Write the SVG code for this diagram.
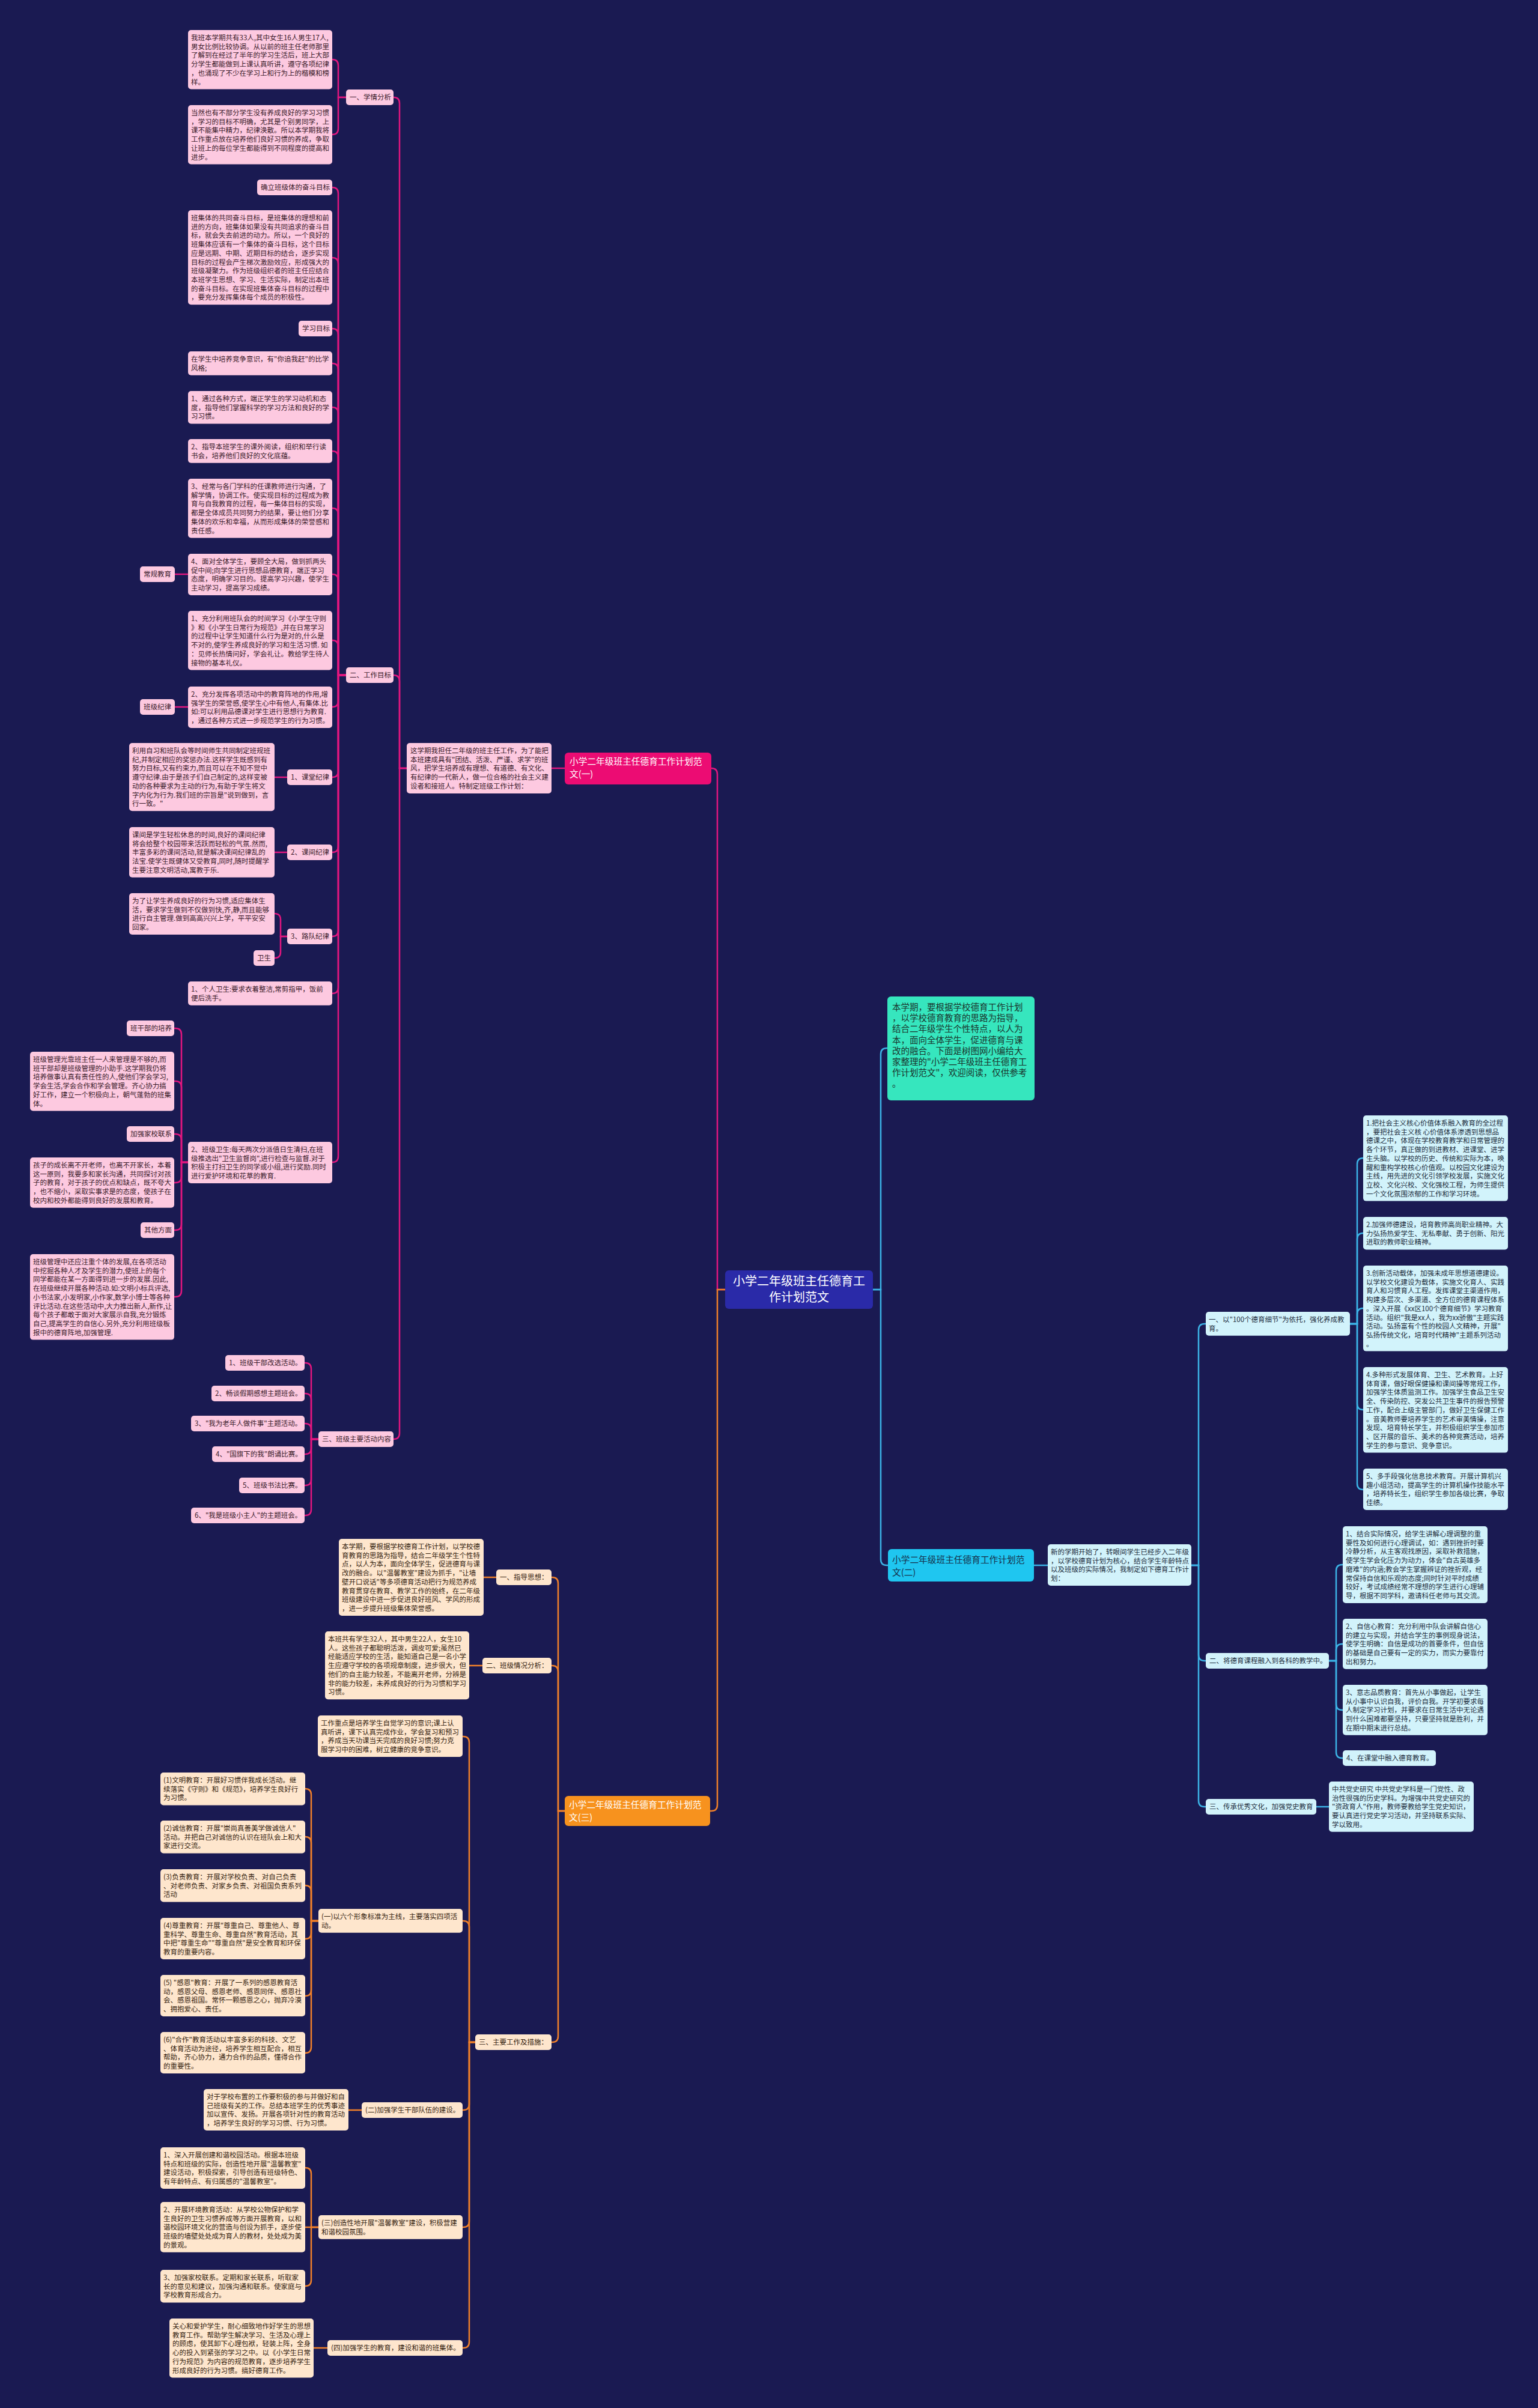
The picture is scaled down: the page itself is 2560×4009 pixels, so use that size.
<svg xmlns="http://www.w3.org/2000/svg" width="2560" height="4009" viewBox="0 0 2560 4009">
<style>
text{font-family:'Noto Sans CJK SC','Noto Sans',sans-serif;font-size:11.5px}
.pk{fill:#fdc9e0}.pt{fill:#3a1a2a}
.cy{fill:#d2f3fb}.ct{fill:#1c2c3c}
.or{fill:#fee6cd}.ot{fill:#35230f}
.ln{fill:none;stroke-width:2.5}
.lp{stroke:#e3167f}.lc{stroke:#3cb3e6}.lo{stroke:#f0802a}
.big{font-size:14.7px}
</style>
<rect width="2560" height="4009" fill="#1a1a52"/>
<g id="connectors">
<g class="ln lp">
<path d="M1207,2147 H1194 V1289 Q1194,1279 1184,1279"/>
<path d="M940,1279 H918"/>
<path d="M677,1279 H665 V172 Q665,162 655,162"/>
<path d="M677,1279 H665 V1134 Q665,1124 655,1124"/>
<path d="M677,1279 H665 V2386 Q665,2396 655,2396"/>
<path d="M576,162 H563 V109 Q563,99 553,99"/>
<path d="M576,162 H563 V214 Q563,224 553,224"/>
<path d="M576,1124 H563 V322 Q563,312 553,312"/>
<path d="M576,1124 H563 V439 Q563,429 553,429"/>
<path d="M576,1124 H563 V557 Q563,547 553,547"/>
<path d="M576,1124 H563 V615 Q563,605 553,605"/>
<path d="M576,1124 H563 V688 Q563,678 553,678"/>
<path d="M576,1124 H563 V761 Q563,751 553,751"/>
<path d="M576,1124 H563 V856 Q563,846 553,846"/>
<path d="M576,1124 H563 V966 Q563,956 553,956"/>
<path d="M576,1124 H563 V1076 Q563,1066 553,1066"/>
<path d="M576,1124 H563 V1167 Q563,1177 553,1177"/>
<path d="M576,1124 H563 V1284 Q563,1294 553,1294"/>
<path d="M576,1124 H563 V1409 Q563,1419 553,1419"/>
<path d="M576,1124 H563 V1549 Q563,1559 553,1559"/>
<path d="M576,1124 H563 V1644 Q563,1654 553,1654"/>
<path d="M576,1124 H563 V1925 Q563,1935 553,1935"/>
<path d="M313,956 H291"/>
<path d="M313,1177 H291"/>
<path d="M478,1294 H457"/>
<path d="M478,1419 H457"/>
<path d="M478,1559 H467 V1531 Q467,1521 457,1521"/>
<path d="M478,1559 H467 V1585 Q467,1595 457,1595"/>
<path d="M313,1935 H302 V1722 Q302,1712 292,1712 H290"/>
<path d="M313,1935 H302 V1810 Q302,1800 292,1800 H290"/>
<path d="M313,1935 H302 V1898 Q302,1888 292,1888 H290"/>
<path d="M313,1935 H302 V1959 Q302,1969 292,1969 H290"/>
<path d="M313,1935 H302 V2038 Q302,2048 292,2048 H290"/>
<path d="M313,1935 H302 V2149 Q302,2159 292,2159 H290"/>
<path d="M530,2396 H518 V2279 Q518,2269 508,2269 H507"/>
<path d="M530,2396 H518 V2330 Q518,2320 508,2320 H507"/>
<path d="M530,2396 H518 V2380 Q518,2370 508,2370 H507"/>
<path d="M530,2396 H518 V2411 Q518,2421 508,2421 H507"/>
<path d="M530,2396 H518 V2463 Q518,2473 508,2473 H507"/>
<path d="M530,2396 H518 V2513 Q518,2523 508,2523 H507"/>
</g>
<g class="ln lc">
<path d="M1453,2147 H1466 V1755 Q1466,1745 1476,1745 H1477"/>
<path d="M1453,2147 H1466 V2596 Q1466,2606 1476,2606 H1478"/>
<path d="M1721,2606 H1744"/>
<path d="M1983,2606 H1995 V2214 Q1995,2204 2005,2204 H2007"/>
<path d="M1983,2606 H1995 V2755 Q1995,2765 2005,2765 H2007"/>
<path d="M1983,2606 H1995 V2998 Q1995,3008 2005,3008 H2007"/>
<path d="M2247,2204 H2259 V1938 Q2259,1928 2269,1928"/>
<path d="M2247,2204 H2259 V2063 Q2259,2053 2269,2053"/>
<path d="M2247,2204 H2259 V2188 Q2259,2178 2269,2178"/>
<path d="M2247,2204 H2259 V2337 Q2259,2347 2269,2347"/>
<path d="M2247,2204 H2259 V2470 Q2259,2480 2269,2480"/>
<path d="M2212,2765 H2224 V2615 Q2224,2605 2234,2605 H2235"/>
<path d="M2212,2765 H2224 V2747 Q2224,2737 2234,2737 H2235"/>
<path d="M2212,2765 H2224 V2837 Q2224,2847 2234,2847 H2235"/>
<path d="M2212,2765 H2224 V2917 Q2224,2927 2234,2927 H2235"/>
<path d="M2191,3008 H2212"/>
</g>
<g class="ln lo">
<path d="M1207,2147 H1194 V3005 Q1194,3015 1184,3015 H1182"/>
<path d="M940,3015 H929 V2636 Q929,2626 919,2626 H918"/>
<path d="M940,3015 H929 V2783 Q929,2773 919,2773 H918"/>
<path d="M940,3015 H929 V3390 Q929,3400 919,3400 H918"/>
<path d="M826,2626 H805"/>
<path d="M803,2773 H781"/>
<path d="M791,3400 H781 V2901 Q781,2891 771,2891 H770"/>
<path d="M791,3400 H781 V3208 Q781,3198 771,3198 H770"/>
<path d="M791,3400 H781 V3503 Q781,3513 771,3513 H770"/>
<path d="M791,3400 H781 V3698 Q781,3708 771,3708 H770"/>
<path d="M791,3400 H781 V3899 Q781,3909 771,3909 H770"/>
<path d="M530,3198 H518 V2988 Q518,2978 508,2978"/>
<path d="M530,3198 H518 V3068 Q518,3058 508,3058"/>
<path d="M530,3198 H518 V3149 Q518,3139 508,3139"/>
<path d="M530,3198 H518 V3218 Q518,3228 508,3228"/>
<path d="M530,3198 H518 V3313 Q518,3323 508,3323"/>
<path d="M530,3198 H518 V3408 Q518,3418 508,3418"/>
<path d="M602,3513 H580"/>
<path d="M530,3708 H518 V3619 Q518,3609 508,3609"/>
<path d="M530,3708 H508"/>
<path d="M530,3708 H518 V3796 Q518,3806 508,3806"/>
<path d="M545,3909 H522"/>
</g>
</g>

<g id="center"><rect x="1207" y="2115" width="246" height="64" rx="6" fill="#2a2aa8"/><text x="1330" y="2140" text-anchor="middle" fill="#ffffff" style="font-size:20px"><tspan x="1330">小学二年级班主任德育工</tspan><tspan x="1330" dy="27">作计划范文</tspan></text></g>

<!-- Branch 1 -->
<g id="b1-label"><rect x="940" y="1253" width="244" height="53" rx="6" fill="#ec0c73"/><text class="big" x="948" y="1273" fill="#ffffff"><tspan x="948">小学二年级班主任德育工作计划范</tspan><tspan x="948" dy="21">文(一)</tspan></text></g>
<g id="b1-desc"><rect class="pk" x="677" y="1237" width="241" height="84" rx="5"/><text class="pt" x="683" y="1254"><tspan x="683">这学期我担任二年级的班主任工作，为了能把</tspan><tspan x="683" dy="14.7">本班建成具有"团结、活泼、严谨、求学"的班</tspan><tspan x="683" dy="14.7">风，把学生培养成有理想、有道德、有文化、</tspan><tspan x="683" dy="14.7">有纪律的一代新人，做一位合格的社会主义建</tspan><tspan x="683" dy="14.7">设者和接班人。特制定班级工作计划：</tspan></text></g>

<g id="n-xqfx"><rect class="pk" x="576" y="149" width="79" height="26" rx="5"/><text class="pt" x="582" y="166">一、学情分析</text></g>
<g id="n-a1"><rect class="pk" x="313" y="50" width="240" height="98.5" rx="5"/><text class="pt" x="318" y="67"><tspan x="318">我班本学期共有33人,其中女生16人男生17人,</tspan><tspan x="318" dy="14.7">男女比例比较协调。从以前的班主任老师那里</tspan><tspan x="318" dy="14.7">了解到在经过了半年的学习生活后，班上大部</tspan><tspan x="318" dy="14.7">分学生都能做到上课认真听讲，遵守各项纪律</tspan><tspan x="318" dy="14.7">，也涌现了不少在学习上和行为上的楷模和榜</tspan><tspan x="318" dy="14.7">样。</tspan></text></g>
<g id="n-a2"><rect class="pk" x="313" y="175" width="240" height="98.5" rx="5"/><text class="pt" x="318" y="192"><tspan x="318">当然也有不部分学生没有养成良好的学习习惯</tspan><tspan x="318" dy="14.7">，学习的目标不明确，尤其是个别男同学，上</tspan><tspan x="318" dy="14.7">课不能集中精力，纪律涣散。所以本学期我将</tspan><tspan x="318" dy="14.7">工作重点放在培养他们良好习惯的养成，争取</tspan><tspan x="318" dy="14.7">让班上的每位学生都能得到不同程度的提高和</tspan><tspan x="318" dy="14.7">进步。</tspan></text></g>
<g id="n-gzmb"><rect class="pk" x="576" y="1111" width="79" height="26" rx="5"/><text class="pt" x="582" y="1128">二、工作目标</text></g>
<g id="n-queli"><rect class="pk" x="428" y="299" width="125" height="26" rx="5"/><text class="pt" x="434" y="316">确立班级体的奋斗目标</text></g>
<g id="n-a3"><rect class="pk" x="313" y="350" width="240" height="157.3" rx="5"/><text class="pt" x="318" y="367"><tspan x="318">班集体的共同奋斗目标，是班集体的理想和前</tspan><tspan x="318" dy="14.7">进的方向，班集体如果没有共同追求的奋斗目</tspan><tspan x="318" dy="14.7">标，就会失去前进的动力。所以，一个良好的</tspan><tspan x="318" dy="14.7">班集体应该有一个集体的奋斗目标，这个目标</tspan><tspan x="318" dy="14.7">应是远期、中期、近期目标的结合，逐步实现</tspan><tspan x="318" dy="14.7">目标的过程会产生梯次激励效应，形成强大的</tspan><tspan x="318" dy="14.7">班级凝聚力。作为班级组织者的班主任应结合</tspan><tspan x="318" dy="14.7">本班学生思想、学习、生活实际，制定出本班</tspan><tspan x="318" dy="14.7">的奋斗目标。在实现班集体奋斗目标的过程中</tspan><tspan x="318" dy="14.7">，要充分发挥集体每个成员的积极性。</tspan></text></g>
<g id="n-xxmb"><rect class="pk" x="497" y="534" width="56" height="26" rx="5"/><text class="pt" x="503" y="551">学习目标</text></g>
<g id="n-jzyx"><rect class="pk" x="313" y="585" width="240" height="39.7" rx="5"/><text class="pt" x="318" y="602"><tspan x="318">在学生中培养竞争意识，有"你追我赶"的比学</tspan><tspan x="318" dy="14.7">风格;</tspan></text></g>
<g id="n-t1"><rect class="pk" x="313" y="651" width="240" height="54.4" rx="5"/><text class="pt" x="318" y="668"><tspan x="318">1、通过各种方式，端正学生的学习动机和态</tspan><tspan x="318" dy="14.7">度，指导他们掌握科学的学习方法和良好的学</tspan><tspan x="318" dy="14.7">习习惯。</tspan></text></g>
<g id="n-t2"><rect class="pk" x="313" y="731" width="240" height="39.7" rx="5"/><text class="pt" x="318" y="748"><tspan x="318">2、指导本班学生的课外阅读，组织和举行读</tspan><tspan x="318" dy="14.7">书会，培养他们良好的文化底蕴。</tspan></text></g>
<g id="n-t3"><rect class="pk" x="313" y="797" width="240" height="98.5" rx="5"/><text class="pt" x="318" y="814"><tspan x="318">3、经常与各门学科的任课教师进行沟通，了</tspan><tspan x="318" dy="14.7">解学情，协调工作。使实现目标的过程成为教</tspan><tspan x="318" dy="14.7">育与自我教育的过程，每一集体目标的实现，</tspan><tspan x="318" dy="14.7">都是全体成员共同努力的结果，要让他们分享</tspan><tspan x="318" dy="14.7">集体的欢乐和幸福，从而形成集体的荣誉感和</tspan><tspan x="318" dy="14.7">责任感。</tspan></text></g>
<g id="n-t4"><rect class="pk" x="313" y="922" width="240" height="69" rx="5"/><text class="pt" x="318" y="939"><tspan x="318">4、面对全体学生，要顾全大局，做到抓两头</tspan><tspan x="318" dy="14.7">促中间;向学生进行思想品德教育，端正学习</tspan><tspan x="318" dy="14.7">态度，明确学习目的。提高学习兴趣，使学生</tspan><tspan x="318" dy="14.7">主动学习，提高学习成绩。</tspan></text></g>
<g id="n-cgjy"><rect class="pk" x="233" y="943" width="58" height="26" rx="5"/><text class="pt" x="239" y="960">常规教育</text></g>
<g id="n-s1"><rect class="pk" x="313" y="1017" width="240" height="98.5" rx="5"/><text class="pt" x="318" y="1034"><tspan x="318">1、充分利用班队会的时间学习《小学生守则</tspan><tspan x="318" dy="14.7">》和《小学生日常行为规范》,并在日常学习</tspan><tspan x="318" dy="14.7">的过程中让学生知道什么行为是对的,什么是</tspan><tspan x="318" dy="14.7">不对的,使学生养成良好的学习和生活习惯. 如</tspan><tspan x="318" dy="14.7">：见师长热情问好，学会礼让。教给学生待人</tspan><tspan x="318" dy="14.7">接物的基本礼仪。</tspan></text></g>
<g id="n-s2"><rect class="pk" x="313" y="1143" width="240" height="69" rx="5"/><text class="pt" x="318" y="1160"><tspan x="318">2、充分发挥各项活动中的教育阵地的作用,增</tspan><tspan x="318" dy="14.7">强学生的荣誉感,使学生心中有他人,有集体.比</tspan><tspan x="318" dy="14.7">如:可以利用品德课对学生进行思想行为教育.</tspan><tspan x="318" dy="14.7">，通过各种方式进一步规范学生的行为习惯。</tspan></text></g>
<g id="n-bjjl"><rect class="pk" x="233" y="1164" width="58" height="26" rx="5"/><text class="pt" x="239" y="1181">班级纪律</text></g>
<g id="n-ktjl"><rect class="pk" x="478" y="1281" width="75" height="26" rx="5"/><text class="pt" x="484" y="1298">1、课堂纪律</text></g>
<g id="n-ktjl-d"><rect class="pk" x="215" y="1237" width="242" height="113.2" rx="5"/><text class="pt" x="220" y="1254"><tspan x="220">利用自习和班队会等时间师生共同制定班规班</tspan><tspan x="220" dy="14.7">纪,并制定相应的奖惩办法.这样学生既感到有</tspan><tspan x="220" dy="14.7">努力目标,又有约束力,而且可以在不知不觉中</tspan><tspan x="220" dy="14.7">遵守纪律.由于是孩子们自己制定的,这样变被</tspan><tspan x="220" dy="14.7">动的各种要求为主动的行为,有助于学生将文</tspan><tspan x="220" dy="14.7">字内化为行为.我们班的宗旨是"说到做到，言</tspan><tspan x="220" dy="14.7">行一致。"</tspan></text></g>
<g id="n-kjjl"><rect class="pk" x="478" y="1406" width="75" height="26" rx="5"/><text class="pt" x="484" y="1423">2、课间纪律</text></g>
<g id="n-kjjl-d"><rect class="pk" x="215" y="1377" width="242" height="83.8" rx="5"/><text class="pt" x="220" y="1394"><tspan x="220">课间是学生轻松休息的时间,良好的课间纪律</tspan><tspan x="220" dy="14.7">将会给整个校园带来活跃而轻松的气氛.然而,</tspan><tspan x="220" dy="14.7">丰富多彩的课间活动,就是解决课间纪律乱的</tspan><tspan x="220" dy="14.7">法宝.使学生既健体又受教育,同时,随时提醒学</tspan><tspan x="220" dy="14.7">生要注意文明活动,寓教于乐.</tspan></text></g>
<g id="n-ldjl"><rect class="pk" x="478" y="1546" width="75" height="26" rx="5"/><text class="pt" x="484" y="1563">3、路队纪律</text></g>
<g id="n-ldjl-d"><rect class="pk" x="215" y="1487" width="242" height="69" rx="5"/><text class="pt" x="220" y="1504"><tspan x="220">为了让学生养成良好的行为习惯,适应集体生</tspan><tspan x="220" dy="14.7">活，要求学生做到不仅做到快,齐,静,而且能够</tspan><tspan x="220" dy="14.7">进行自主管理.做到高高兴兴上学，平平安安</tspan><tspan x="220" dy="14.7">回家。</tspan></text></g>
<g id="n-ws"><rect class="pk" x="422" y="1582" width="35" height="26" rx="5"/><text class="pt" x="428" y="1599">卫生</text></g>
<g id="n-grws"><rect class="pk" x="313" y="1634" width="240" height="39.7" rx="5"/><text class="pt" x="318" y="1651"><tspan x="318">1、个人卫生:要求衣着整洁,常剪指甲，饭前</tspan><tspan x="318" dy="14.7">便后洗手。</tspan></text></g>
<g id="n-bjws"><rect class="pk" x="313" y="1901" width="240" height="69" rx="5"/><text class="pt" x="318" y="1918"><tspan x="318">2、班级卫生:每天两次分派值日生清扫,在班</tspan><tspan x="318" dy="14.7">级推选出"卫生监督岗",进行检查与监督.对于</tspan><tspan x="318" dy="14.7">积极主打扫卫生的同学或小组,进行奖励.同时</tspan><tspan x="318" dy="14.7">进行爱护环境和花草的教育.</tspan></text></g>
<g id="n-bgb"><rect class="pk" x="211" y="1699" width="79" height="26" rx="5"/><text class="pt" x="217" y="1716">班干部的培养</text></g>
<g id="n-bgb-d"><rect class="pk" x="50" y="1751" width="240" height="98.5" rx="5"/><text class="pt" x="55" y="1768"><tspan x="55">班级管理光靠班主任一人来管理是不够的,而</tspan><tspan x="55" dy="14.7">班干部却是班级管理的小助手.这学期我仍将</tspan><tspan x="55" dy="14.7">培养做事认真有责任性的人,使他们学会学习,</tspan><tspan x="55" dy="14.7">学会生活,学会合作和学会管理。齐心协力搞</tspan><tspan x="55" dy="14.7">好工作，建立一个积极向上，朝气蓬勃的班集</tspan><tspan x="55" dy="14.7">体。</tspan></text></g>
<g id="n-jxlx"><rect class="pk" x="211" y="1875" width="79" height="26" rx="5"/><text class="pt" x="217" y="1892">加强家校联系</text></g>
<g id="n-jxlx-d"><rect class="pk" x="50" y="1927" width="240" height="83.8" rx="5"/><text class="pt" x="55" y="1944"><tspan x="55">孩子的成长离不开老师，也离不开家长，本着</tspan><tspan x="55" dy="14.7">这一原则，我要多和家长沟通，共同探讨对孩</tspan><tspan x="55" dy="14.7">子的教育，对于孩子的优点和缺点，既不夸大</tspan><tspan x="55" dy="14.7">，也不缩小，采取实事求是的态度，使孩子在</tspan><tspan x="55" dy="14.7">校内和校外都能得到良好的发展和教育。</tspan></text></g>
<g id="n-qtfm"><rect class="pk" x="234" y="2035" width="56" height="26" rx="5"/><text class="pt" x="240" y="2052">其他方面</text></g>
<g id="n-qtfm-d"><rect class="pk" x="50" y="2088" width="240" height="142.6" rx="5"/><text class="pt" x="55" y="2105"><tspan x="55">班级管理中还应注重个体的发展,在各项活动</tspan><tspan x="55" dy="14.7">中挖掘各种人才及学生的潜力,使班上的每个</tspan><tspan x="55" dy="14.7">同学都能在某一方面得到进一步的发展.因此,</tspan><tspan x="55" dy="14.7">在班级继续开展各种活动.如:文明小标兵评选,</tspan><tspan x="55" dy="14.7">小书法家,小发明家,小作家,数学小博士等各种</tspan><tspan x="55" dy="14.7">评比活动.在这些活动中,大力推出新人,新作,让</tspan><tspan x="55" dy="14.7">每个孩子都敢于面对大家展示自我,充分锻炼</tspan><tspan x="55" dy="14.7">自己,提高学生的自信心.另外,充分利用班级板</tspan><tspan x="55" dy="14.7">报中的德育阵地,加强管理.</tspan></text></g>
<g id="n-hdnr"><rect class="pk" x="530" y="2383" width="125" height="26" rx="5"/><text class="pt" x="536" y="2400">三、班级主要活动内容</text></g>
<g id="n-h1"><rect class="pk" x="375" y="2256" width="132" height="26" rx="5"/><text class="pt" x="381" y="2273">1、班级干部改选活动。</text></g>
<g id="n-h2"><rect class="pk" x="352" y="2307" width="155" height="26" rx="5"/><text class="pt" x="358" y="2324">2、畅谈假期感想主题班会。</text></g>
<g id="n-h3"><rect class="pk" x="318" y="2357" width="189" height="26" rx="5"/><text class="pt" x="324" y="2374">3、"我为老年人做件事"主题活动。</text></g>
<g id="n-h4"><rect class="pk" x="353" y="2408" width="154" height="26" rx="5"/><text class="pt" x="359" y="2425">4、"国旗下的我"朗诵比赛。</text></g>
<g id="n-h5"><rect class="pk" x="398" y="2460" width="109" height="26" rx="5"/><text class="pt" x="404" y="2477">5、班级书法比赛。</text></g>
<g id="n-h6"><rect class="pk" x="318" y="2510" width="189" height="26" rx="5"/><text class="pt" x="324" y="2527">6、"我是班级小主人"的主题班会。</text></g>

<!-- Branch 2 -->
<g id="intro"><rect x="1477" y="1659" width="245" height="173" rx="6" fill="#36e6be"/><text x="1485" y="1682" fill="#1a332c" style="font-size:14.5px"><tspan x="1485">本学期，要根据学校德育工作计划</tspan><tspan x="1485" dy="18.2">，以学校德育教育的思路为指导，</tspan><tspan x="1485" dy="18.2">结合二年级学生个性特点，以人为</tspan><tspan x="1485" dy="18.2">本，面向全体学生，促进德育与课</tspan><tspan x="1485" dy="18.2">改的融合。下面是树图网小编给大</tspan><tspan x="1485" dy="18.2">家整理的"小学二年级班主任德育工</tspan><tspan x="1485" dy="18.2">作计划范文"，欢迎阅读，仅供参考</tspan><tspan x="1485" dy="18.2">。</tspan></text></g>
<g id="b2-label"><rect x="1478" y="2579" width="243" height="54" rx="6" fill="#1fc6f0"/><text class="big" x="1485" y="2602" fill="#16304a"><tspan x="1485">小学二年级班主任德育工作计划范</tspan><tspan x="1485" dy="21">文(二)</tspan></text></g>
<g id="b2-desc"><rect class="cy" x="1744" y="2571" width="239" height="69" rx="5"/><text class="ct" x="1749" y="2588"><tspan x="1749">新的学期开始了，转眼间学生已经步入二年级</tspan><tspan x="1749" dy="14.7">，以学校德育计划为核心，结合学生年龄特点</tspan><tspan x="1749" dy="14.7">以及班级的实际情况，我制定如下德育工作计</tspan><tspan x="1749" dy="14.7">划：</tspan></text></g>
<g id="n-r1"><rect class="cy" x="2007" y="2184" width="240" height="39.7" rx="5"/><text class="ct" x="2012" y="2201"><tspan x="2012">一、以"100个德育细节"为依托，强化养成教</tspan><tspan x="2012" dy="14.7">育。</tspan></text></g>
<g id="n-c1"><rect class="cy" x="2269" y="1857" width="241" height="142.6" rx="5"/><text class="ct" x="2274" y="1874"><tspan x="2274">1.把社会主义核心价值体系融入教育的全过程</tspan><tspan x="2274" dy="14.7">，要把社会主义核 心价值体系渗透到思想品</tspan><tspan x="2274" dy="14.7">德课之中，体现在学校教育教学和日常管理的</tspan><tspan x="2274" dy="14.7">各个环节，真正做的到进教材、进课堂、进学</tspan><tspan x="2274" dy="14.7">生头脑。以学校的历史、传统和实际为本，唤</tspan><tspan x="2274" dy="14.7">醒和重构学校核心价值观。以校园文化建设为</tspan><tspan x="2274" dy="14.7">主线，用先进的文化引领学校发展，实施文化</tspan><tspan x="2274" dy="14.7">立校、文化兴校、文化强校工程，为师生提供</tspan><tspan x="2274" dy="14.7">一个文化氛围浓郁的工作和学习环境。</tspan></text></g>
<g id="n-c2"><rect class="cy" x="2269" y="2026" width="241" height="54.4" rx="5"/><text class="ct" x="2274" y="2043"><tspan x="2274">2.加强师德建设，培育教师高尚职业精神。大</tspan><tspan x="2274" dy="14.7">力弘扬热爱学生、无私奉献、勇于创新、阳光</tspan><tspan x="2274" dy="14.7">进取的教师职业精神。</tspan></text></g>
<g id="n-c3"><rect class="cy" x="2269" y="2107" width="241" height="142.6" rx="5"/><text class="ct" x="2274" y="2124"><tspan x="2274">3.创新活动载体，加强未成年思想道德建设。</tspan><tspan x="2274" dy="14.7">以学校文化建设为载体，实施文化育人、实践</tspan><tspan x="2274" dy="14.7">育人和习惯育人工程。发挥课堂主渠道作用，</tspan><tspan x="2274" dy="14.7">构建多层次、多渠道、全方位的德育课程体系</tspan><tspan x="2274" dy="14.7">。深入开展《xx区100个德育细节》学习教育</tspan><tspan x="2274" dy="14.7">活动。组织"我是xx人，我为xx骄傲"主题实践</tspan><tspan x="2274" dy="14.7">活动。弘扬富有个性的校园人文精神，开展"</tspan><tspan x="2274" dy="14.7">弘扬传统文化，培育时代精神"主题系列活动</tspan><tspan x="2274" dy="14.7">。</tspan></text></g>
<g id="n-c4"><rect class="cy" x="2269" y="2276" width="241" height="142.6" rx="5"/><text class="ct" x="2274" y="2293"><tspan x="2274">4.多种形式发展体育、卫生、艺术教育。上好</tspan><tspan x="2274" dy="14.7">体育课，做好眼保健操和课间操等常规工作，</tspan><tspan x="2274" dy="14.7">加强学生体质监测工作。加强学生食品卫生安</tspan><tspan x="2274" dy="14.7">全、传染防控、突发公共卫生事件的报告预警</tspan><tspan x="2274" dy="14.7">工作，配合上级主管部门，做好卫生保健工作</tspan><tspan x="2274" dy="14.7">。音美教师要培养学生的艺术审美情操，注意</tspan><tspan x="2274" dy="14.7">发现、培育特长学生，并积极组织学生参加市</tspan><tspan x="2274" dy="14.7">、区开展的音乐、美术的各种竞赛活动，培养</tspan><tspan x="2274" dy="14.7">学生的参与意识、竞争意识。</tspan></text></g>
<g id="n-c5"><rect class="cy" x="2269" y="2445" width="241" height="69" rx="5"/><text class="ct" x="2274" y="2462"><tspan x="2274">5、多手段强化信息技术教育。开展计算机兴</tspan><tspan x="2274" dy="14.7">趣小组活动，提高学生的计算机操作技能水平</tspan><tspan x="2274" dy="14.7">，培养特长生，组织学生参加各级比赛，争取</tspan><tspan x="2274" dy="14.7">佳绩。</tspan></text></g>
<g id="n-r2"><rect class="cy" x="2007" y="2752" width="205" height="26" rx="5"/><text class="ct" x="2013" y="2769">二、将德育课程融入到各科的教学中。</text></g>
<g id="n-d1"><rect class="cy" x="2235" y="2541" width="241" height="128" rx="5"/><text class="ct" x="2240" y="2558"><tspan x="2240">1、结合实际情况，给学生讲解心理调整的重</tspan><tspan x="2240" dy="14.7">要性及如何进行心理调试，如：遇到挫折时要</tspan><tspan x="2240" dy="14.7">冷静分析，从主客观找原因，采取补救措施，</tspan><tspan x="2240" dy="14.7">使学生学会化压力为动力，体会"自古英雄多</tspan><tspan x="2240" dy="14.7">磨难"的内涵;教会学生掌握辨证的挫折观，经</tspan><tspan x="2240" dy="14.7">常保持自信和乐观的态度;同时针对平时成绩</tspan><tspan x="2240" dy="14.7">较好，考试成绩经常不理想的学生进行心理辅</tspan><tspan x="2240" dy="14.7">导，根据不同学科，邀请科任老师与其交流。</tspan></text></g>
<g id="n-d2"><rect class="cy" x="2235" y="2695" width="241" height="83.8" rx="5"/><text class="ct" x="2240" y="2712"><tspan x="2240">2、自信心教育：充分利用中队会讲解自信心</tspan><tspan x="2240" dy="14.7">的建立与实现，并结合学生的事例现身说法，</tspan><tspan x="2240" dy="14.7">使学生明确：自信是成功的首要条件，但自信</tspan><tspan x="2240" dy="14.7">的基础是自己要有一定的实力，而实力要靠付</tspan><tspan x="2240" dy="14.7">出和努力。</tspan></text></g>
<g id="n-d3"><rect class="cy" x="2235" y="2805" width="241" height="83.8" rx="5"/><text class="ct" x="2240" y="2822"><tspan x="2240">3、意志品质教育：首先从小事做起，让学生</tspan><tspan x="2240" dy="14.7">从小事中认识自我，评价自我。开学初要求每</tspan><tspan x="2240" dy="14.7">人制定学习计划，并要求在日常生活中无论遇</tspan><tspan x="2240" dy="14.7">到什么困难都要坚持，只要坚持就是胜利，并</tspan><tspan x="2240" dy="14.7">在期中期末进行总结。</tspan></text></g>
<g id="n-d4"><rect class="cy" x="2235" y="2914" width="155" height="26" rx="5"/><text class="ct" x="2241" y="2931">4、在课堂中融入德育教育。</text></g>
<g id="n-r3"><rect class="cy" x="2007" y="2995" width="184" height="26" rx="5"/><text class="ct" x="2013" y="3012">三、传承优秀文化，加强党史教育</text></g>
<g id="n-r3-d"><rect class="cy" x="2212" y="2966" width="241" height="83.8" rx="5"/><text class="ct" x="2217" y="2983"><tspan x="2217">中共党史研究 中共党史学科是一门党性、政</tspan><tspan x="2217" dy="14.7">治性很强的历史学科。为增强中共党史研究的</tspan><tspan x="2217" dy="14.7">"资政育人"作用，教师要教给学生党史知识，</tspan><tspan x="2217" dy="14.7">要认真进行党史学习活动，并坚持联系实际、</tspan><tspan x="2217" dy="14.7">学以致用。</tspan></text></g>

<!-- Branch 3 -->
<g id="b3-label"><rect x="940" y="2990" width="242" height="50" rx="6" fill="#f7921e"/><text class="big" x="947" y="3010" fill="#ffffff"><tspan x="947">小学二年级班主任德育工作计划范</tspan><tspan x="947" dy="21">文(三)</tspan></text></g>
<g id="n-zdsx"><rect class="or" x="826" y="2613" width="92" height="26" rx="5"/><text class="ot" x="832" y="2630">一、指导思想：</text></g>
<g id="n-zdsx-d"><rect class="or" x="564" y="2562" width="241" height="128" rx="5"/><text class="ot" x="569" y="2579"><tspan x="569">本学期，要根据学校德育工作计划，以学校德</tspan><tspan x="569" dy="14.7">育教育的思路为指导，结合二年级学生个性特</tspan><tspan x="569" dy="14.7">点，以人为本，面向全体学生，促进德育与课</tspan><tspan x="569" dy="14.7">改的融合。以"温馨教室"建设为抓手，"让墙</tspan><tspan x="569" dy="14.7">壁开口说话"等多项德育活动把行为规范养成</tspan><tspan x="569" dy="14.7">教育贯穿在教育、教学工作的始终，在二年级</tspan><tspan x="569" dy="14.7">班级建设中进一步促进良好班风、学风的形成</tspan><tspan x="569" dy="14.7">，进一步提升班级集体荣誉感。</tspan></text></g>
<g id="n-bjqk"><rect class="or" x="803" y="2760" width="115" height="26" rx="5"/><text class="ot" x="809" y="2777">二、班级情况分析：</text></g>
<g id="n-bjqk-d"><rect class="or" x="541" y="2716" width="240" height="113.2" rx="5"/><text class="ot" x="546" y="2733"><tspan x="546">本班共有学生32人，其中男生22人，女生10</tspan><tspan x="546" dy="14.7">人。这些孩子都聪明活泼，调皮可爱;虽然已</tspan><tspan x="546" dy="14.7">经能适应学校的生活，能知道自己是一名小学</tspan><tspan x="546" dy="14.7">生应遵守学校的各项规章制度，进步很大，但</tspan><tspan x="546" dy="14.7">他们的自主能力较差，不能离开老师，分辨是</tspan><tspan x="546" dy="14.7">非的能力较差，未养成良好的行为习惯和学习</tspan><tspan x="546" dy="14.7">习惯。</tspan></text></g>
<g id="n-zygz"><rect class="or" x="791" y="3387" width="127" height="26" rx="5"/><text class="ot" x="797" y="3404">三、主要工作及措施：</text></g>
<g id="n-gzzd"><rect class="or" x="529" y="2856" width="241" height="69" rx="5"/><text class="ot" x="534" y="2873"><tspan x="534">工作重点是培养学生自觉学习的意识;课上认</tspan><tspan x="534" dy="14.7">真听讲，课下认真完成作业，学会复习和预习</tspan><tspan x="534" dy="14.7">，养成当天功课当天完成的良好习惯;努力克</tspan><tspan x="534" dy="14.7">服学习中的困难，树立健康的竞争意识。</tspan></text></g>
<g id="n-y1"><rect class="or" x="530" y="3178" width="240" height="39.7" rx="5"/><text class="ot" x="535" y="3195"><tspan x="535">(一)以六个形象标准为主线，主要落实四项活</tspan><tspan x="535" dy="14.7">动。</tspan></text></g>
<g id="n-e1"><rect class="or" x="267" y="2951" width="241" height="54.4" rx="5"/><text class="ot" x="272" y="2968"><tspan x="272">(1)文明教育：开展好习惯伴我成长活动。继</tspan><tspan x="272" dy="14.7">续落实《守则》和《规范》，培养学生良好行</tspan><tspan x="272" dy="14.7">为习惯。</tspan></text></g>
<g id="n-e2"><rect class="or" x="267" y="3031" width="241" height="54.4" rx="5"/><text class="ot" x="272" y="3048"><tspan x="272">(2)诚信教育：开展"崇尚真善美学做诚信人"</tspan><tspan x="272" dy="14.7">活动。并把自己对诚信的认识在班队会上和大</tspan><tspan x="272" dy="14.7">家进行交流。</tspan></text></g>
<g id="n-e3"><rect class="or" x="267" y="3112" width="241" height="54.4" rx="5"/><text class="ot" x="272" y="3129"><tspan x="272">(3)负责教育：开展对学校负责、对自己负责</tspan><tspan x="272" dy="14.7">、对老师负责、对家乡负责、对祖国负责系列</tspan><tspan x="272" dy="14.7">活动</tspan></text></g>
<g id="n-e4"><rect class="or" x="267" y="3193" width="241" height="69" rx="5"/><text class="ot" x="272" y="3210"><tspan x="272">(4)尊重教育：开展"尊重自己、尊重他人、尊</tspan><tspan x="272" dy="14.7">重科学、尊重生命、尊重自然"教育活动，其</tspan><tspan x="272" dy="14.7">中把"尊重生命""尊重自然"是安全教育和环保</tspan><tspan x="272" dy="14.7">教育的重要内容。</tspan></text></g>
<g id="n-e5"><rect class="or" x="267" y="3288" width="241" height="69" rx="5"/><text class="ot" x="272" y="3305"><tspan x="272">(5) "感恩"教育：开展了一系列的感恩教育活</tspan><tspan x="272" dy="14.7">动，感恩父母、感恩老师、感恩同伴、感恩社</tspan><tspan x="272" dy="14.7">会、感恩祖国。常怀一颗感恩之心，抛弃冷漠</tspan><tspan x="272" dy="14.7">、拥抱爱心、责任。</tspan></text></g>
<g id="n-e6"><rect class="or" x="267" y="3383" width="241" height="69" rx="5"/><text class="ot" x="272" y="3400"><tspan x="272">(6)"合作"教育活动以丰富多彩的科技、文艺</tspan><tspan x="272" dy="14.7">、体育活动为途径，培养学生相互配合，相互</tspan><tspan x="272" dy="14.7">帮助，齐心协力，通力合作的品质，懂得合作</tspan><tspan x="272" dy="14.7">的重要性。</tspan></text></g>
<g id="n-y2"><rect class="or" x="602" y="3500" width="168" height="26" rx="5"/><text class="ot" x="608" y="3517">(二)加强学生干部队伍的建设。</text></g>
<g id="n-y2-d"><rect class="or" x="339" y="3478" width="241" height="69" rx="5"/><text class="ot" x="344" y="3495"><tspan x="344">对于学校布置的工作要积极的参与并做好和自</tspan><tspan x="344" dy="14.7">己班级有关的工作。总结本班学生的优秀事迹</tspan><tspan x="344" dy="14.7">加以宣传、发扬。开展各项针对性的教育活动</tspan><tspan x="344" dy="14.7">，培养学生良好的学习习惯、行为习惯。</tspan></text></g>
<g id="n-y3"><rect class="or" x="530" y="3688" width="240" height="39.7" rx="5"/><text class="ot" x="535" y="3705"><tspan x="535">(三)创造性地开展"温馨教室"建设，积极营建</tspan><tspan x="535" dy="14.7">和谐校园氛围。</tspan></text></g>
<g id="n-f1"><rect class="or" x="267" y="3575" width="241" height="69" rx="5"/><text class="ot" x="272" y="3592"><tspan x="272">1、深入开展创建和谐校园活动。根据本班级</tspan><tspan x="272" dy="14.7">特点和班级的实际，创造性地开展"温馨教室"</tspan><tspan x="272" dy="14.7">建设活动，积极探索，引导创造有班级特色、</tspan><tspan x="272" dy="14.7">有年龄特点、有归属感的"温馨教室"。</tspan></text></g>
<g id="n-f2"><rect class="or" x="267" y="3666" width="241" height="83.8" rx="5"/><text class="ot" x="272" y="3683"><tspan x="272">2、开展环境教育活动：从学校公物保护和学</tspan><tspan x="272" dy="14.7">生良好的卫生习惯养成等方面开展教育，以和</tspan><tspan x="272" dy="14.7">谐校园环境文化的营造与创设为抓手，逐步使</tspan><tspan x="272" dy="14.7">班级的墙壁处处成为育人的教材，处处成为美</tspan><tspan x="272" dy="14.7">的景观。</tspan></text></g>
<g id="n-f3"><rect class="or" x="267" y="3779" width="241" height="54.4" rx="5"/><text class="ot" x="272" y="3796"><tspan x="272">3、加强家校联系。定期和家长联系，听取家</tspan><tspan x="272" dy="14.7">长的意见和建议，加强沟通和联系。使家庭与</tspan><tspan x="272" dy="14.7">学校教育形成合力。</tspan></text></g>
<g id="n-y4"><rect class="or" x="545" y="3896" width="225" height="26" rx="5"/><text class="ot" x="551" y="3913">(四)加强学生的教育，建设和谐的班集体。</text></g>
<g id="n-y4-d"><rect class="or" x="282" y="3860" width="240" height="98.5" rx="5"/><text class="ot" x="287" y="3877"><tspan x="287">关心和爱护学生，耐心细致地作好学生的思想</tspan><tspan x="287" dy="14.7">教育工作。帮助学生解决学习、生活及心理上</tspan><tspan x="287" dy="14.7">的顾虑，使其卸下心理包袱，轻装上阵，全身</tspan><tspan x="287" dy="14.7">心的投入到紧张的学习之中。以《小学生日常</tspan><tspan x="287" dy="14.7">行为规范》为内容的规范教育，逐步培养学生</tspan><tspan x="287" dy="14.7">形成良好的行为习惯。搞好德育工作。</tspan></text></g>
</svg>
